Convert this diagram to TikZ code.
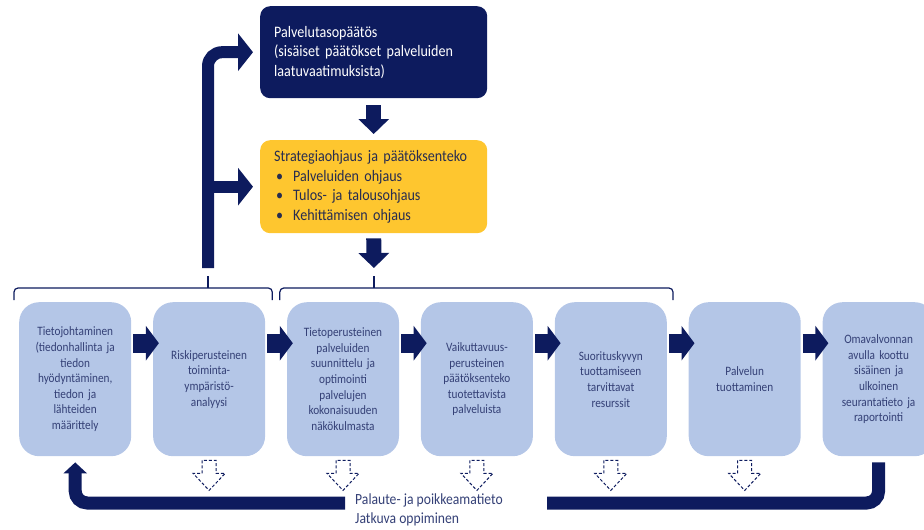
\documentclass[tikz,border=0pt]{standalone}
\usepackage{fontspec}
\setmainfont{Carlito}[FakeStretch=0.88]
\definecolor{mynavy}{RGB}{13,27,94}
\definecolor{mybluegray}{RGB}{180,198,231}
\definecolor{myyellow}{RGB}{254,198,47}
\definecolor{mytext}{RGB}{52,64,118}
\definecolor{mydark}{RGB}{40,45,80}
\usetikzlibrary{arrows.meta,positioning,calc}

\begin{document}
\begin{tikzpicture}[
  x=1pt, y=-1pt,
  node distance=21.5pt,
  stepbox/.style={
    fill=mybluegray,
    rounded corners=20pt,
    minimum width=112pt,
    minimum height=154pt,
    text width=104pt,
    inner sep=0pt,
    align=center,
    text=mytext,
    font=\fontsize{12.8}{15.6}\selectfont
    },
  topbox/.style={
    rounded corners=10pt,
    minimum width=227pt,
    minimum height=#1,
    text width=199pt,
    inner xsep=14pt,
    align=left,
    font=\fontsize{16}{19.5}\selectfont
    },
  rarrow/.style={draw=mynavy, line width=19pt, -{Triangle[length=13pt,width=34pt]}},
  darrow/.style={draw=mynavy, line width=15pt, -{Triangle[length=15pt,width=30pt]}},
  bigarrow/.style={draw=mynavy, line width=12pt, -{Triangle[length=15pt,width=37pt]}},
  fbarrow/.style={draw=mynavy, line width=13pt, rounded corners=12pt},
  brk/.style={draw=mynavy, line width=1.2pt, rounded corners=4pt},
  hollow/.style={draw=mynavy, line width=1pt, dash pattern=on 3pt off 2pt}
]
\useasboundingbox (0,0) rectangle (924,530);
\clip (0,0) rectangle (924,530);

% upper boxes
\node[topbox=92pt, fill=mynavy, text=white, anchor=north west] (level) at (260,6)
  {Palvelutasopäätös\\(sisäiset päätökset palveluiden\\laatuvaatimuksista)};
\node[topbox=93pt, fill=myyellow, text=mydark, anchor=north west] (strat) at (260,140)
  {Strategiaohjaus ja päätöksenteko\\
  \makebox[19pt][l]{\hspace{2pt}\textbullet}Palveluiden ohjaus\\
  \makebox[19pt][l]{\hspace{2pt}\textbullet}Tulos- ja talousohjaus\\
  \makebox[19pt][l]{\hspace{2pt}\textbullet}Kehittämisen ohjaus};

% process row
\node[stepbox, anchor=north west] (b1) at (19,302)
  {Tietojohtaminen\\(tiedonhallinta ja\\tiedon\\hyödyntäminen,\\tiedon ja\\lähteiden\\määrittely};
\node[stepbox, right=of b1] (b2) {Riskiperusteinen\\toiminta-\\ympäristö-\\analyysi};
\node[stepbox, right=of b2] (b3)
  {Tietoperusteinen\\palveluiden\\suunnittelu ja\\optimointi\\palvelujen\\kokonaisuuden\\näkökulmasta};
\node[stepbox, right=of b3] (b4)
  {Vaikuttavuus-\\perusteinen\\päätöksenteko\\tuotettavista\\palveluista};
\node[stepbox, right=of b4] (b5) {Suorituskyvyn\\tuottamiseen\\tarvittavat\\resurssit};
\node[stepbox, right=of b5] (b6) {Palvelun\\tuottaminen};
\node[stepbox, right=of b6] (b7)
  {Omavalvonnan\\avulla koottu\\sisäinen ja\\ulkoinen\\seurantatieto ja\\raportointi};

\foreach \a/\b in {b1/b2, b2/b3, b3/b4, b4/b5, b5/b6, b6/b7}
  \draw[rarrow] ([shift={(2pt,36pt)}]\a.east) -- ([shift={(6pt,36pt)}]\b.west);

% braces
\coordinate (tip1) at (208,288);
\coordinate (tip1top) at (208,276);
\coordinate (tip2) at (374,288);
\coordinate (tip2top) at (374,276);
\draw[brk] ([shift={(-5pt,2pt)}]b1.north west) |- (tip1) -| ([shift={(7pt,2pt)}]b2.north east);
\draw[brk] (tip1) -- (tip1top);
\draw[brk] ([shift={(-7pt,2pt)}]b3.north west) |- (tip2) -| ([shift={(6pt,2pt)}]b5.north east);
\draw[brk] (tip2) -- (tip2top);

% arrows up and down
\draw[bigarrow, rounded corners=14pt] ([yshift=8pt]tip1top) |- ([xshift=-7pt]level.west);
\draw[bigarrow] (tip1top |- strat.west) -- ([xshift=-7pt]strat.west);
\draw[darrow, shorten <=7pt, shorten >=6pt] (level.south) -- (strat.north);
\draw[darrow, shorten <=5pt, shorten >=8pt] (strat.south) -- (tip2top);

% dashed outputs
\foreach \n in {b2, b3, b4, b5, b6}
  \draw[hollow, shift={(\n.south)}]
    (-7,4) -- (-7,17) -- (-16,17) -- (0,34) -- (16,17) -- (7,17) -- (7,4) -- cycle;

% feedback loop
\node[anchor=base west, inner sep=0pt, align=left, text=mytext,
  font=\fontsize{15.5}{18.5}\selectfont] (feedback) at (355,523)
  {Palaute- ja poikkeamatieto\\Jatkuva oppiminen};
\coordinate (fbright) at (547,503);
\coordinate (fbleft) at (345,503);
\draw[fbarrow] ([yshift=-6pt]b7.south) |- (fbright);
\draw[fbarrow, -{Triangle[length=11pt,width=23pt]}] (fbleft) -| ([yshift=-6pt]b1.south);
\end{tikzpicture}
\end{document}
